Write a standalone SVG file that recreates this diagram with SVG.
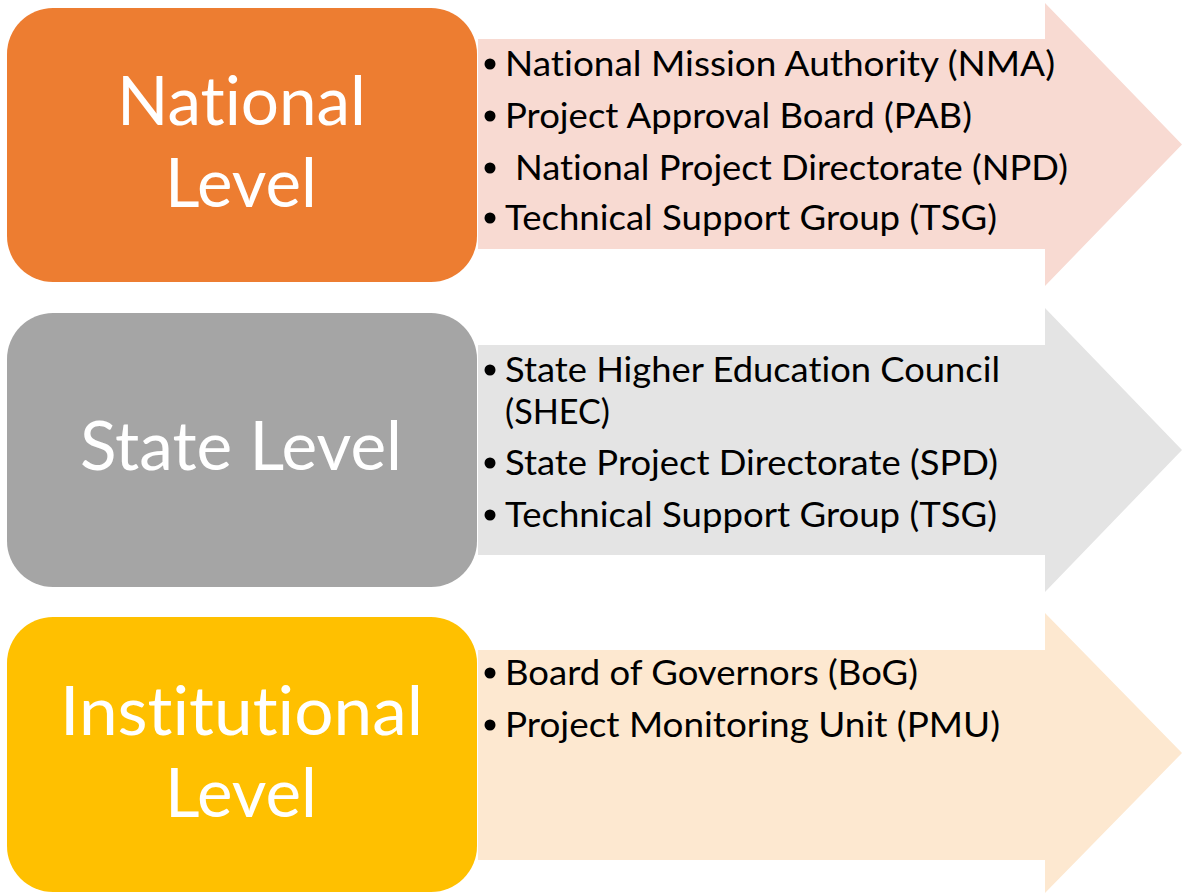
<svg xmlns="http://www.w3.org/2000/svg" width="1182" height="893" viewBox="0 0 1182 893">
<style>
.lvl{font-family:Lato,"Open Sans","Liberation Sans",sans-serif;font-size:68px;fill:#fff;font-variant-ligatures:none}
.item{font-family:Lato,"Open Sans","Liberation Sans",sans-serif;font-size:34px;fill:#000;font-variant-ligatures:none}
.dot{fill:#000}
</style>
<rect width="1182" height="893" fill="#fff"/>
<g id="connectors">
<polygon id="arrow-national" points="478,39 1045,39 1045,3 1182,144.5 1045,286 1045,249 478,249" fill="#F8DAD2"/>
<polygon id="arrow-state" points="478,345 1045,345 1045,308 1182,450 1045,592 1045,555 478,555" fill="#E4E4E4"/>
<polygon id="arrow-institutional" points="478,650 1045,650 1045,613 1182,753 1045,893 1045,860 478,860" fill="#FDE8D0"/>
</g>
<g id="node-national">
<rect x="7" y="8" width="470" height="274" rx="46" fill="#ED7D31"/>
<text class="lvl" x="117" y="125" textLength="249" lengthAdjust="spacingAndGlyphs">National</text>
<text class="lvl" x="165" y="207" textLength="152" lengthAdjust="spacingAndGlyphs">Level</text>
</g>
<g id="list-national">
<circle class="dot" cx="490" cy="64" r="5.5"/>
<text class="item" x="505" y="76" textLength="550" lengthAdjust="spacingAndGlyphs">National Mission Authority (NMA)</text>
<circle class="dot" cx="490" cy="116" r="5.5"/>
<text class="item" x="505" y="128" textLength="467" lengthAdjust="spacingAndGlyphs">Project Approval Board (PAB)</text>
<circle class="dot" cx="490" cy="168" r="5.5"/>
<text class="item" x="515" y="180" textLength="553" lengthAdjust="spacingAndGlyphs">National Project Directorate (NPD)</text>
<circle class="dot" cx="490" cy="218" r="5.5"/>
<text class="item" x="505" y="230" textLength="492" lengthAdjust="spacingAndGlyphs">Technical Support Group (TSG)</text>
</g>
<g id="node-state">
<rect x="7" y="313" width="470" height="274" rx="46" fill="#A5A5A5"/>
<text class="lvl" x="80" y="470" textLength="322" lengthAdjust="spacingAndGlyphs">State Level</text>
</g>
<g id="list-state">
<circle class="dot" cx="490" cy="370" r="5.5"/>
<text class="item" x="505" y="382" textLength="495" lengthAdjust="spacingAndGlyphs">State Higher Education Council</text>
<text class="item" x="505" y="424" textLength="105" lengthAdjust="spacingAndGlyphs">(SHEC)</text>
<circle class="dot" cx="490" cy="463" r="5.5"/>
<text class="item" x="505" y="475" textLength="493" lengthAdjust="spacingAndGlyphs">State Project Directorate (SPD)</text>
<circle class="dot" cx="490" cy="515" r="5.5"/>
<text class="item" x="505" y="527" textLength="492" lengthAdjust="spacingAndGlyphs">Technical Support Group (TSG)</text>
</g>
<g id="node-institutional">
<rect x="7" y="617" width="470" height="275" rx="46" fill="#FFC000"/>
<text class="lvl" x="60" y="735" textLength="363" lengthAdjust="spacingAndGlyphs">Institutional</text>
<text class="lvl" x="165" y="817" textLength="152" lengthAdjust="spacingAndGlyphs">Level</text>
</g>
<g id="list-institutional">
<circle class="dot" cx="490" cy="673" r="5.5"/>
<text class="item" x="505" y="685" textLength="413" lengthAdjust="spacingAndGlyphs">Board of Governors (BoG)</text>
<circle class="dot" cx="490" cy="725" r="5.5"/>
<text class="item" x="505" y="737" textLength="495" lengthAdjust="spacingAndGlyphs">Project Monitoring Unit (PMU)</text>
</g>
</svg>
